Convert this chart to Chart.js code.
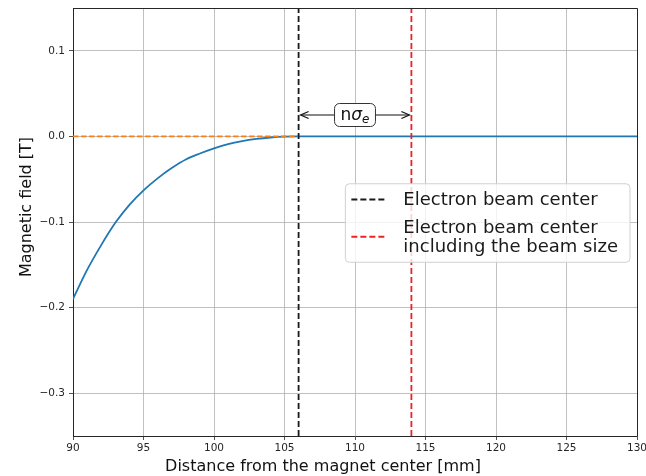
<!DOCTYPE html>
<html>
<head>
    <title>Magnetic field near the electron beam</title>
    <script src="https://cdn.jsdelivr.net/npm/chart.js"></script>
    <style>
        html, body { margin: 0; padding: 0; background: #fff; }
        #fieldChart { display: block; }
    </style>
</head>
<body>
    <canvas id="fieldChart" width="646" height="476"></canvas>

    <script>
        // field profile along the distance from the magnet center (mm -> T)
        const distance = [90, 91, 92, 93, 94, 95, 96, 97, 98, 99, 100, 101, 102, 103, 104, 105, 106, 130];
        const field = [-0.190, -0.156, -0.127, -0.101, -0.080, -0.063, -0.049, -0.037, -0.027, -0.020,
                       -0.014, -0.009, -0.0055, -0.003, -0.0013, -0.0003, 0, 0];
        const zeroLine = [0, 0];

        const beamCenter = 106;
        const beamEdge = 114;
        const arrowY = 0.025;

        const xRange = [90, 130];
        const yRange = [-0.35, 0.15];
        const xTicks = [90, 95, 100, 105, 110, 115, 120, 125, 130];
        const yTicks = [-0.3, -0.2, -0.1, 0.0, 0.1];
        const yTickLabels = ['\u22120.3', '\u22120.2', '\u22120.1', '0.0', '0.1'];

        const xTitle = 'Distance from the magnet center [mm]';
        const yTitle = 'Magnetic field [T]';
        const legendLabels = [['Electron beam center'], ['Electron beam center', 'including the beam size']];

        const FONT = "'DejaVu Sans', sans-serif";

        function roundRect(ctx, x, y, w, h, r) {
            ctx.beginPath();
            ctx.moveTo(x + r, y);
            ctx.lineTo(x + w - r, y);
            ctx.arcTo(x + w, y, x + w, y + r, r);
            ctx.lineTo(x + w, y + h - r);
            ctx.arcTo(x + w, y + h, x + w - r, y + h, r);
            ctx.lineTo(x + r, y + h);
            ctx.arcTo(x, y + h, x, y + h - r, r);
            ctx.lineTo(x, y + r);
            ctx.arcTo(x, y, x + r, y, r);
            ctx.closePath();
        }

        function arrowHead(ctx, x, y, dir) {
            ctx.beginPath();
            ctx.moveTo(x - dir * 8, y - 3.5);
            ctx.lineTo(x, y);
            ctx.lineTo(x - dir * 8, y + 3.5);
            ctx.stroke();
        }

        // top/right spines, n-sigma arrow, legend and axis titles
        const decorPlugin = {
            id: 'decor',
            afterDraw(chart) {
                const { ctx, chartArea: area, scales } = chart;
                const xs = scales.x, ys = scales.y;
                ctx.save();

                // frame
                ctx.strokeStyle = '#262626';
                ctx.lineWidth = 1;
                ctx.beginPath();
                ctx.moveTo(Math.round(area.left), Math.round(area.top) + 0.5);
                ctx.lineTo(Math.round(area.right) + 0.5, Math.round(area.top) + 0.5);
                ctx.lineTo(Math.round(area.right) + 0.5, Math.round(area.bottom));
                ctx.stroke();

                // double arrow between the two beam lines
                const ax1 = xs.getPixelForValue(beamCenter) + 2;
                const ax2 = xs.getPixelForValue(beamEdge) - 2;
                const ay = ys.getPixelForValue(arrowY);
                ctx.strokeStyle = '#111';
                ctx.lineWidth = 1.2;
                ctx.beginPath();
                ctx.moveTo(ax1, ay);
                ctx.lineTo(ax2, ay);
                ctx.stroke();
                arrowHead(ctx, ax1, ay, -1);
                arrowHead(ctx, ax2, ay, 1);

                // n sigma_e label box
                ctx.font = '17px ' + FONT;
                const wN = ctx.measureText('n').width;
                ctx.font = 'italic 17px ' + FONT;
                const wS = ctx.measureText('\u03c3').width;
                ctx.font = 'italic 12px ' + FONT;
                const wE = ctx.measureText('e').width;
                const tw = wN + wS + wE;
                const cx = (ax1 + ax2) / 2;
                const bw = tw + 12, bh = 23;
                roundRect(ctx, cx - bw / 2, ay - bh / 2, bw, bh, 5);
                ctx.fillStyle = '#fff';
                ctx.fill();
                ctx.strokeStyle = '#333';
                ctx.lineWidth = 1;
                ctx.stroke();
                ctx.fillStyle = '#111';
                ctx.textBaseline = 'alphabetic';
                ctx.textAlign = 'left';
                let tx = cx - tw / 2;
                const base = ay + 5;
                ctx.font = '17px ' + FONT;
                ctx.fillText('n', tx, base);
                tx += wN;
                ctx.font = 'italic 17px ' + FONT;
                ctx.fillText('\u03c3', tx, base);
                tx += wS;
                ctx.font = 'italic 12px ' + FONT;
                ctx.fillText('e', tx, base + 3);

                // legend, center right
                const legendSets = chart.data.datasets.filter(d => d.inLegend);
                ctx.font = '18px ' + FONT;
                let textW = 0;
                legendSets.forEach(d => d.label.forEach(t => { textW = Math.max(textW, ctx.measureText(t).width); }));
                const lineH = 19.5;
                const padL = 6, handleW = 36, gap = 16, padR = 12, padV = 6;
                const rows = legendSets.reduce((n, d) => n + d.label.length, 0);
                const lw = padL + handleW + gap + textW + padR;
                const lh = padV * 2 + rows * lineH + (legendSets.length - 1) * 8;
                const lx = area.right - 7 - lw;
                const ly = (area.top + area.bottom) / 2 - lh / 2 + 1;
                roundRect(ctx, lx, ly, lw, lh, 4);
                ctx.fillStyle = 'rgba(255,255,255,0.8)';
                ctx.fill();
                ctx.strokeStyle = '#d0d0d0';
                ctx.stroke();

                let rowY = ly + padV;
                ctx.textBaseline = 'middle';
                legendSets.forEach(d => {
                    const h = d.label.length * lineH;
                    const midY = rowY + h / 2;
                    ctx.strokeStyle = d.borderColor;
                    ctx.lineWidth = d.borderWidth;
                    ctx.setLineDash(d.borderDash);
                    ctx.beginPath();
                    ctx.moveTo(lx + padL, midY);
                    ctx.lineTo(lx + padL + handleW, midY);
                    ctx.stroke();
                    ctx.setLineDash([]);
                    ctx.fillStyle = '#1a1a1a';
                    ctx.font = '18px ' + FONT;
                    d.label.forEach((t, i) => {
                        ctx.fillText(t, lx + padL + handleW + gap, rowY + lineH * (i + 0.5) + 1);
                    });
                    rowY += h + 8;
                });

                // axis titles
                ctx.fillStyle = '#111';
                ctx.font = '16px ' + FONT;
                ctx.textAlign = 'center';
                ctx.textBaseline = 'middle';
                ctx.fillText(xTitle, (area.left + area.right) / 2 - 32, chart.height - 9);
                ctx.save();
                ctx.translate(27, (area.top + area.bottom) / 2 - 15);
                ctx.rotate(-Math.PI / 2);
                ctx.fillText(yTitle, 0, 0);
                ctx.restore();

                ctx.restore();
            }
        };

        const line = (color, dash, width) => ({
            showLine: true, pointRadius: 0, borderColor: color, borderDash: dash, borderWidth: width, fill: false
        });

        new Chart(document.getElementById('fieldChart'), {
            type: 'scatter',
            data: {
                datasets: [
                    Object.assign(line('#1a1a1a', [6, 3], 1.8), {
                        label: legendLabels[0], inLegend: true,
                        data: yRange.map(y => ({ x: beamCenter, y: y }))
                    }),
                    Object.assign(line('#ee2222', [6, 3], 1.8), {
                        label: legendLabels[1], inLegend: true,
                        data: yRange.map(y => ({ x: beamEdge, y: y }))
                    }),
                    Object.assign(line('#ff7f0e', [5.5, 2.5], 1.8), {
                        label: 'zero',
                        data: [{ x: distance[0], y: zeroLine[0] }, { x: beamCenter, y: zeroLine[1] }]
                    }),
                    Object.assign(line('#1f77b4', [], 1.8), {
                        label: 'field', cubicInterpolationMode: 'monotone',
                        data: distance.map((d, i) => ({ x: d, y: field[i] }))
                    })
                ]
            },
            options: {
                responsive: false,
                animation: false,
                devicePixelRatio: 1,
                layout: { padding: { left: 0, right: 9, top: 8, bottom: 0 } },
                plugins: { legend: { display: false }, tooltip: { enabled: false } },
                scales: {
                    x: {
                        type: 'linear',
                        min: xRange[0], max: xRange[1],
                        afterBuildTicks: s => { s.ticks = xTicks.map(v => ({ value: v })); },
                        afterFit: s => { s.height = 40; s.paddingLeft = 0; s.paddingRight = 0; },
                        ticks: { font: { family: FONT, size: 10.5 }, color: '#262626', padding: 2, maxRotation: 0 },
                        grid: { color: '#b0b0b0', lineWidth: 0.8, tickColor: '#262626', tickLength: 4 },
                        border: { color: '#262626', width: 1 }
                    },
                    y: {
                        type: 'linear',
                        min: yRange[0], max: yRange[1],
                        afterBuildTicks: s => { s.ticks = yTicks.map(v => ({ value: v })); },
                        afterFit: s => { s.width = 73; s.paddingTop = 0; s.paddingBottom = 0; },
                        ticks: {
                            font: { family: FONT, size: 10.5 }, color: '#262626', padding: 4,
                            callback: v => yTickLabels[yTicks.findIndex(t => Math.abs(t - v) < 1e-9)]
                        },
                        grid: { color: '#b0b0b0', lineWidth: 0.8, tickColor: '#262626', tickLength: 4 },
                        border: { color: '#262626', width: 1 }
                    }
                }
            },
            plugins: [decorPlugin]
        });
    </script>
</body>
</html>
